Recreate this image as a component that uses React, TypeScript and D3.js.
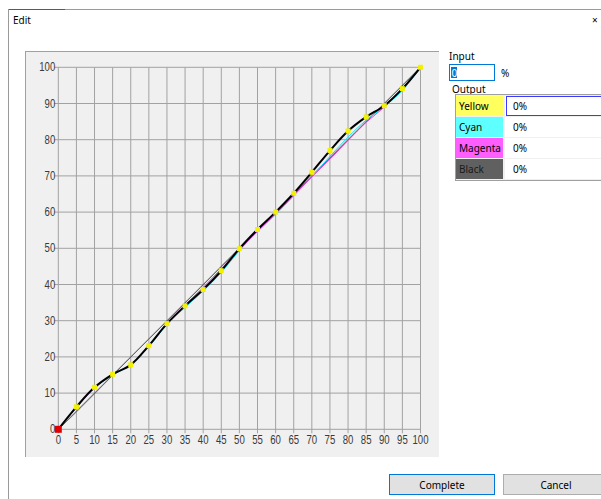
import React from "react";
import * as d3 from "d3";

const inputLevels = [0, 5, 10, 15, 20, 25, 30, 35, 40, 45, 50, 55, 60, 65, 70, 75, 80, 85, 90, 95, 100];
const yellowOut = [0, 6.2, 11.6, 15.2, 17.8, 23.1, 29.2, 34.1, 38.6, 43.8, 49.9, 55.2, 60.0, 65.2, 71.0, 77.0, 82.4, 86.3, 89.4, 94.1, 100];
const cyanOut = [0, 6.0, 11.4, 15.0, 17.8, 22.9, 28.9, 33.7, 38.2, 43.3, 49.4, 54.6, 59.3, 64.5, 69.8, 75.4, 80.7, 85.4, 89.1, 93.6, 100];
const magentaOut = [0, 6.0, 11.4, 15.1, 17.9, 23.0, 29.3, 34.4, 39.2, 44.4, 49.6, 54.7, 59.6, 64.6, 69.7, 74.6, 79.8, 84.8, 89.0, 94.0, 100];
const blackOut = [0, 4.8, 9.8, 14.9, 19.9, 24.9, 29.9, 34.9, 39.9, 45.0, 50.0, 55.0, 60.0, 65.0, 70.0, 75.0, 80.0, 85.0, 90.0, 95.0, 100];
const xTicks = d3.range(0, 101, 5);
const yTicks = d3.range(0, 101, 10);
const channels = ["Yellow", "Cyan", "Magenta", "Black"];
const channelValues = ["0%", "0%", "0%", "0%"];
const channelColors = ["#ffff5e", "#5effff", "#ff5eff", "#606060"];

const uiFont = "'Noto Sans', 'Open Sans', sans-serif";
const axisFont = "'Liberation Sans', Arial, sans-serif";

export default function App() {
  const x = d3.scaleLinear().domain([0, 100]).range([58.3, 420.5]);
  const y = d3.scaleLinear().domain([0, 100]).range([429.3, 67.3]);
  const mk = (vals: number[]) =>
    d3
      .line<number>()
      .x((_, i) => x(inputLevels[i]))
      .y((d) => y(d))
      .curve(d3.curveCatmullRom.alpha(0.5))(vals) || "";
  const diag = d3.line<number>().x((d) => x(d)).y((d) => y(d))([0, 100]) || "";

  return (
    <svg
      width={601}
      height={499}
      style={{ position: "absolute", left: 0, top: 0, background: "#fff" }}
    >
      <rect x={0} y={0} width={601} height={499} fill="#ffffff" />
      {/* dialog frame */}
      <line x1={8.5} y1={9.5} x2={601} y2={9.5} stroke="#9a9a9a" />
      <line x1={8.5} y1={9.5} x2={65} y2={9.5} stroke="#5a5a5a" />
      <line x1={8.5} y1={9.5} x2={8.5} y2={499} stroke="#9a9a9a" />
      <text x={13} y={24} fontFamily={uiFont} fontSize={10} fill="#000">Edit</text>
      <text x={592} y={24} fontFamily={uiFont} fontSize={10} fill="#000">×</text>

      {/* chart panel */}
      <rect x={25} y={51} width={414} height={406} fill="#f0f0f0" />
      <line x1={25} y1={51.5} x2={439} y2={51.5} stroke="#a0a0a0" />
      <line x1={25.5} y1={51} x2={25.5} y2={457} stroke="#a0a0a0" />

      {/* grid */}
      {xTicks.map((t) => (
        <line key={"gx" + t} x1={x(t)} x2={x(t)} y1={y(100)} y2={y(0) + 4} stroke="#a2a2a2" strokeWidth={1} />
      ))}
      {yTicks.map((t) => (
        <line key={"gy" + t} x1={x(0) - 4} x2={x(100)} y1={y(t)} y2={y(t)} stroke="#a2a2a2" strokeWidth={1} />
      ))}
      {yTicks.map((t) => (
        <text
          key={"ly" + t}
          transform={`translate(${x(0) - 3},${y(t) + 4}) scale(0.8,1)`}
          textAnchor="end"
          fontFamily={axisFont}
          fontSize={12}
          fill="#3a3a3a"
        >
          {t}
        </text>
      ))}
      {xTicks.map((t) => (
        <text
          key={"lx" + t}
          transform={`translate(${x(t)},${y(0) + 15}) scale(0.8,1)`}
          textAnchor="middle"
          fontFamily={axisFont}
          fontSize={12}
          fill="#3a3a3a"
        >
          {t}
        </text>
      ))}

      {/* curves */}
      <path d={diag} fill="none" stroke="#404040" strokeWidth={0.8} />
      <path d={mk(blackOut)} fill="none" stroke="#606060" strokeWidth={0.8} />
      <path d={mk(cyanOut)} fill="none" stroke="#00e5ff" strokeWidth={1} />
      <path d={mk(magentaOut)} fill="none" stroke="#e040e0" strokeWidth={1} />
      <path d={mk(yellowOut)} fill="none" stroke="#000" strokeWidth={2} />
      {yellowOut.map((v, i) =>
        i === 0 ? null : (
          <rect key={"p" + i} x={x(inputLevels[i]) - 2.5} y={y(v) - 2.5} width={5} height={5} fill="#f2f200" />
        )
      )}
      <rect x={x(0) - 3.5} y={y(yellowOut[0]) - 3.5} width={7} height={7} fill="#e00000" />

      {/* right panel */}
      <text x={449} y={60} fontFamily={uiFont} fontSize={10} fill="#000">Input</text>
      <rect x={449.5} y={64.5} width={45} height={16} fill="#fff" stroke="#0078d7" />
      <rect x={451} y={67} width={6} height={11} fill="#0078d7" />
      <text x={451.5} y={76.5} fontFamily={uiFont} fontSize={10} fill="#fff">0</text>
      <text x={501} y={77} fontFamily={uiFont} fontSize={10} fill="#000">%</text>
      <text x={452} y={93} fontFamily={uiFont} fontSize={10} fill="#000">Output</text>
      <rect x={455.5} y={94.5} width={150} height={86} fill="#f0f0f0" stroke="#a0a0a0" />
      {channels.map((c, i) => {
        const top = 96 + i * 21;
        return (
          <g key={c}>
            <rect x={456} y={top} width={47} height={20} fill={channelColors[i]} />
            <rect x={505} y={top} width={96} height={20} fill="#fff" />
            <text x={459} y={top + 14} fontFamily={uiFont} fontSize={10} fill={i === 3 ? "#1a1a1a" : "#000"}>
              {c}
            </text>
            <text x={513} y={top + 14} fontFamily={uiFont} fontSize={10} fill="#000">
              {channelValues[i]}
            </text>
          </g>
        );
      })}
      <rect x={506.5} y={96.5} width={96} height={19} fill="none" stroke="#3b3bff" />

      {/* buttons */}
      <rect x={389.5} y={474.5} width={105} height={20} fill="#e1e1e1" stroke="#0078d7" />
      <text x={442} y={488.5} textAnchor="middle" fontFamily={uiFont} fontSize={10} fill="#000">Complete</text>
      <rect x={503.5} y={474.5} width={100} height={20} fill="#e1e1e1" stroke="#adadad" />
      <text x={556} y={488.5} textAnchor="middle" fontFamily={uiFont} fontSize={10} fill="#000">Cancel</text>
    </svg>
  );
}
